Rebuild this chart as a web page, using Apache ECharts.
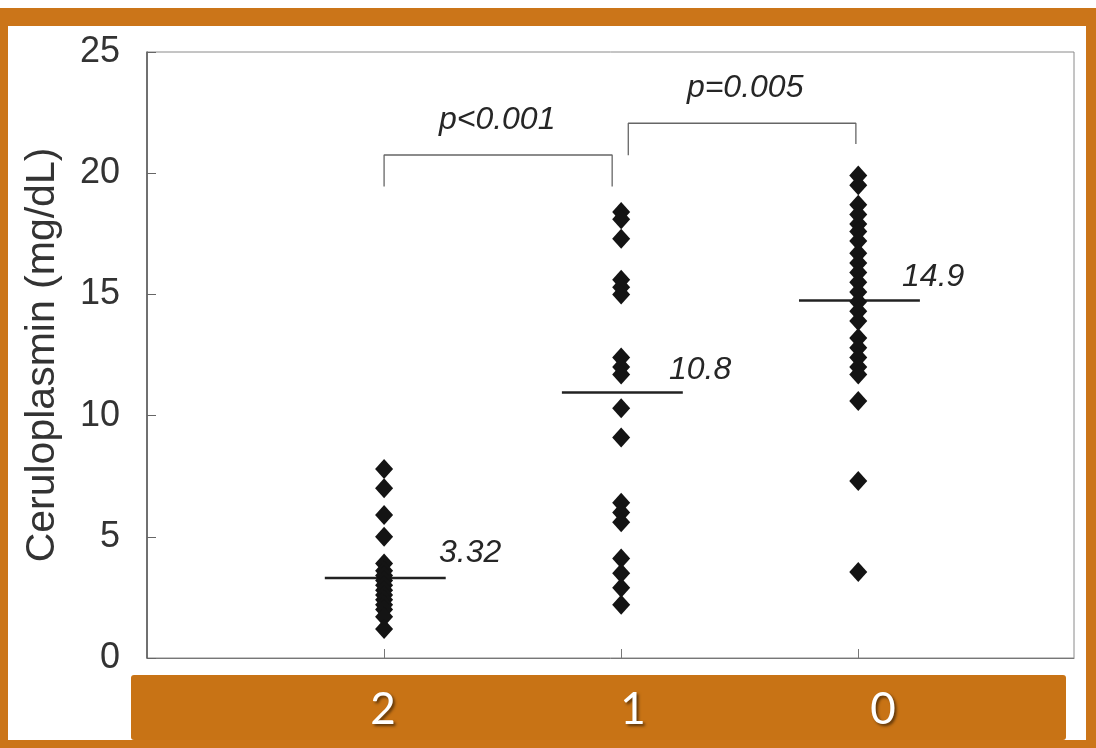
<!DOCTYPE html>
<html>
<head>
<meta charset="utf-8">
<script src="https://cdn.jsdelivr.net/npm/echarts@6/dist/echarts.min.js"></script>
<style>
html,body{margin:0;padding:0;background:#fff;}
#chart{width:1096px;height:748px;}
</style>
</head>
<body>
<div id="chart"></div>
<script>
// ---- data ----
const categories = ['2', '1', '0'];
const yTicks = [0, 5, 10, 15, 20, 25];
const group2 = [7.8, 7.0, 5.9, 5.0, 3.9, 3.6, 3.4, 3.2, 3.0, 2.8, 2.6, 2.4, 2.2, 2.0, 1.7, 1.2];
const group1 = [18.4, 18.1, 17.3, 15.6, 15.3, 15.0, 12.4, 12.0, 11.7, 10.3, 9.1, 6.4, 6.0, 5.6, 4.1, 3.5, 2.9, 2.2];
const group0 = [19.9, 19.5, 18.7, 18.3, 17.9, 17.6, 17.2, 16.7, 16.3, 15.9, 15.5, 15.1, 14.7, 14.3, 13.9, 13.2, 12.8, 12.4, 12.0, 11.7, 10.6, 7.3, 3.55];
const meanLevels = [3.3, 10.95, 14.75];
const meanLabels = ['3.32', '10.8', '14.9'];
const pLabels = ['p<0.001', 'p=0.005'];

const groups = [group2, group1, group0];
const points = [];
groups.forEach((g, i) => g.forEach(v => points.push([i, v])));

const chart = echarts.init(document.getElementById('chart'));
const ORANGE = '#CB7519';
const italicLabel = {
  show: true, position: 'inside', fontStyle: 'italic',
  fontFamily: 'Liberation Sans', fontSize: 32, color: '#262626', opacity: 1,
  formatter: p => p.name
};

chart.setOption({
  animation: false,
  graphic: {
    elements: [
      { type: 'rect', z: -20, shape: { x: 0, y: 8, width: 1096, height: 740 }, style: { fill: ORANGE } },
      { type: 'rect', z: -19, shape: { x: 8, y: 26, width: 1078, height: 714 }, style: { fill: '#fff' } },
      { type: 'rect', z: -18, shape: { x: 131, y: 675, width: 935, height: 65, r: 3 }, style: { fill: '#C87315' } }
    ]
  },
  grid: {
    left: 147, right: 22, top: 52, height: 606,
    show: true, borderColor: '#8a8a8a', borderWidth: 1, backgroundColor: 'transparent'
  },
  xAxis: [{
    type: 'value', min: -1, max: 2.91, interval: 1,
    splitLine: { show: false },
    axisLine: { show: true, onZero: false, lineStyle: { color: '#777', width: 1 } },
    axisTick: { show: true, inside: true, length: 9, lineStyle: { color: '#777' }, customValues: [0, 1, 2] },
    axisLabel: { show: false }
  }, {
    type: 'value', min: -0.944, max: 2.764, position: 'bottom',
    splitLine: { show: false },
    axisLine: { show: false, onZero: false }, axisTick: { show: false },
    axisLabel: {
      show: true, customValues: [0, 1, 2],
      formatter: v => categories[Math.round(v)],
      fontFamily: 'Lato', fontSize: 44, color: '#fff', margin: 30,
      textShadowColor: 'rgba(0,0,0,0.55)', textShadowBlur: 3, textShadowOffsetX: 2, textShadowOffsetY: 2
    }
  }],
  yAxis: {
    type: 'value', min: 0, max: 25, interval: 5,
    name: 'Ceruloplasmin (mg/dL)', nameLocation: 'middle', nameGap: 84, nameRotate: 90,
    nameTextStyle: { fontFamily: 'Liberation Sans', fontSize: 41, color: '#333' },
    splitLine: { show: false },
    axisLine: { show: true, onZero: false, lineStyle: { color: '#555', width: 1.5 } },
    axisTick: { show: true, inside: true, length: 9, lineStyle: { color: '#666' } },
    axisLabel: {
      fontFamily: 'Liberation Sans', fontSize: 36, color: '#333', margin: 27,
      formatter: v => yTicks.includes(v) ? String(v) : ''
    }
  },
  series: [
    {
      type: 'scatter', data: points, symbol: 'diamond', symbolSize: [18, 20],
      itemStyle: { color: '#141414', opacity: 1 }, z: 5
    },
    {
      type: 'custom', z: 4,
      data: meanLevels.map((m, i) => [i, m]),
      renderItem: (params, api) => {
        const x = api.value(0), y = api.value(1);
        const a = api.coord([x - 0.25, y]);
        const b = api.coord([x + 0.26, y]);
        return { type: 'line', shape: { x1: a[0], y1: a[1], x2: b[0], y2: b[1] },
                 style: { stroke: '#222', lineWidth: 2.5 } };
      }
    },
    {
      type: 'line', data: [[0, 19.45], [0, 20.75], [0.962, 20.75], [0.962, 19.45]],
      symbol: 'none', lineStyle: { color: '#666', width: 1.3 }, z: 3
    },
    {
      type: 'line', data: [[1.03, 20.74], [1.03, 22.06], [1.99, 22.06], [1.99, 21.2]],
      symbol: 'none', lineStyle: { color: '#666', width: 1.3 }, z: 3
    },
    {
      type: 'scatter', symbolSize: 0, z: 6, label: italicLabel,
      itemStyle: { opacity: 1 },
      data: [
        { name: pLabels[0], value: [0.477, 22.19] },
        { name: pLabels[1], value: [1.523, 23.5] },
        { name: meanLabels[0], value: [0.363, 4.33] },
        { name: meanLabels[1], value: [1.333, 11.88] },
        { name: meanLabels[2], value: [2.316, 15.71] }
      ]
    }
  ]
});
</script>
</body>
</html>
